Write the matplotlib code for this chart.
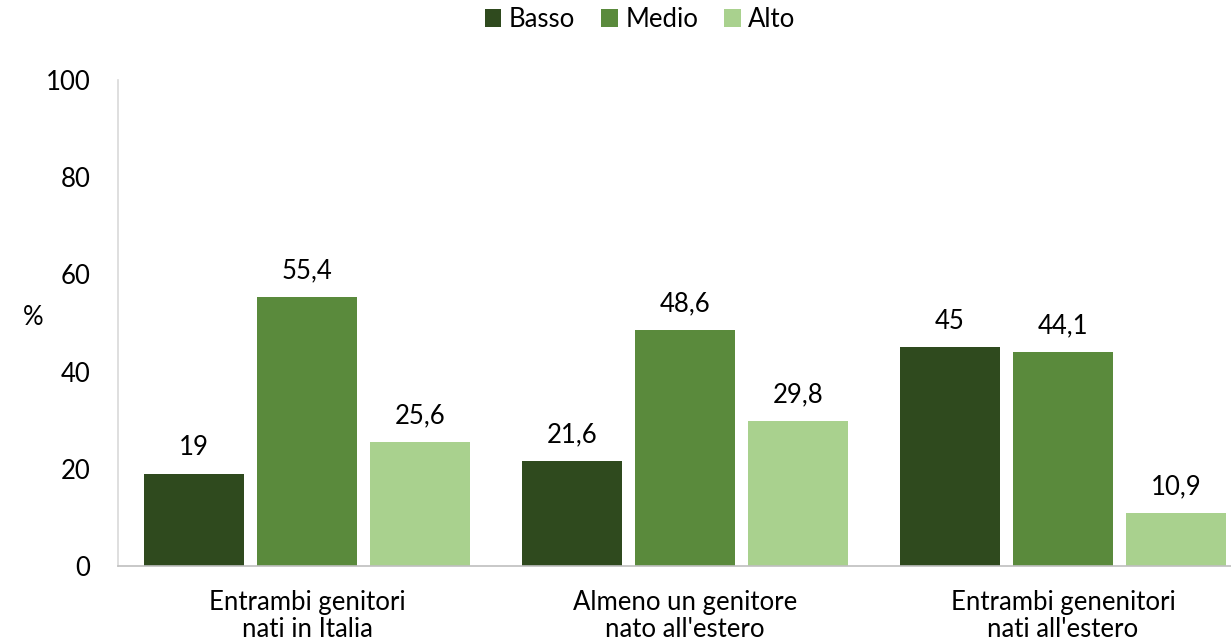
import numpy as np
import matplotlib.pyplot as plt

categories = ["Entrambi genitori\nnati in Italia",
              "Almeno un genitore\nnato all'estero",
              "Entrambi genenitori\nnati all'estero"]
series_names = ["Basso", "Medio", "Alto"]
basso = [19, 21.6, 45]
medio = [55.4, 48.6, 44.1]
alto = [25.6, 29.8, 10.9]
colors = ["#2F4A1E", "#5A8A3C", "#A9D18E"]

plt.rcParams["font.family"] = ["Lato", "DejaVu Sans"]
fs = 18.5

fig = plt.figure(figsize=(12.31, 6.44), dpi=100)
ax = fig.add_axes([118 / 1231, 1 - 566 / 644, 1134 / 1231, 486 / 644])

x = np.arange(len(categories))
offset = 0.299
width = 0.265

for i, (name, vals) in enumerate(zip(series_names, [basso, medio, alto])):
    pos = x + (i - 1) * offset
    ax.bar(pos, vals, width, color=colors[i], label=name)
    for xp, v in zip(pos, vals):
        lab = f"{v:g}".replace(".", ",")
        ax.text(xp, v + 2.8, lab, ha="center", va="bottom", fontsize=fs)

ax.set_xlim(-0.5, 2.5)
ax.set_ylim(0, 100)
ax.set_yticks(range(0, 101, 20))
ax.set_xticks(x)
ax.set_xticklabels(categories, fontsize=fs, linespacing=1.12)
ax.tick_params(axis="y", length=0, labelsize=fs, pad=20)
ax.tick_params(axis="x", length=0, pad=17)

for s in ["top", "right"]:
    ax.spines[s].set_visible(False)
ax.spines["left"].set_color("#D9D9D9")
ax.spines["bottom"].set_color("#BFBFBF")
ax.spines["left"].set_linewidth(1.2)
ax.spines["bottom"].set_linewidth(1.2)

ax.set_ylabel("%", rotation=0, fontsize=fs)
ax.yaxis.set_label_coords(-0.075, 0.485)

fig.legend(loc="upper center", bbox_to_anchor=(0.52, 1.025), ncol=3, frameon=False,
           fontsize=fs, handlelength=0.65, handleheight=0.65, handletextpad=0.3,
           columnspacing=1.0)

fig.savefig("out.png", dpi=100)
